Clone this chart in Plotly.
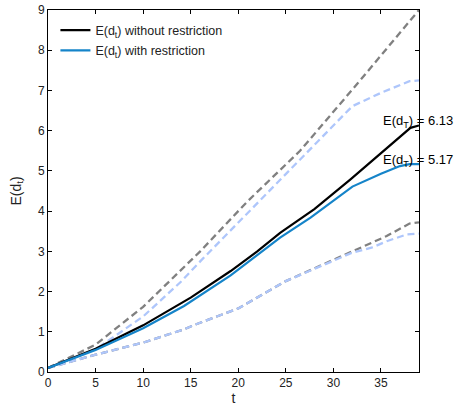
import plotly.graph_objects as go

# Mean trajectories
t_black = [0, 5, 10, 15, 19.2, 22, 24.4, 28, 31.8, 35, 38.1, 39]
v_black = [0.10, 0.58, 1.16, 1.85, 2.51, 3.00, 3.46, 4.05, 4.79, 5.43, 6.07, 6.13]

t_blue = [0, 5, 10, 14.3, 19.2, 22, 24.4, 27.6, 32, 35, 37, 38, 39]
v_blue = [0.10, 0.55, 1.09, 1.64, 2.40, 2.90, 3.34, 3.84, 4.61, 4.93, 5.12, 5.17, 5.17]

# Upper bounds
t_up_grey = [0, 5, 10, 14, 16, 21, 26.5, 32.6, 35, 39]
v_up_grey = [0.10, 0.68, 1.62, 2.55, 3.00, 4.25, 5.50, 7.19, 7.86, 9.00]

t_up_lb = [0, 5, 10, 14, 16, 21, 26.5, 32, 35, 38, 39]
v_up_lb = [0.10, 0.56, 1.38, 2.25, 2.75, 3.95, 5.28, 6.61, 6.94, 7.23, 7.25]

# Lower bounds
t_lo_grey = [0, 5, 10, 14.3, 15.5, 20, 25, 32, 34, 35.6, 38, 39]
v_lo_grey = [0.10, 0.43, 0.73, 1.06, 1.18, 1.58, 2.26, 3.00, 3.21, 3.38, 3.69, 3.72]

t_lo_lb = [0, 5, 10, 14.3, 15.5, 20, 25, 32, 34, 35.6, 37.7, 39]
v_lo_lb = [0.10, 0.43, 0.73, 1.06, 1.18, 1.58, 2.26, 2.97, 3.09, 3.25, 3.42, 3.44]

x_ticks = [0, 5, 10, 15, 20, 25, 30, 35]
y_ticks = [0, 1, 2, 3, 4, 5, 6, 7, 8, 9]

GREY = "#808080"
LIGHTBLUE = "#aec6fb"
BLUE = "#1584c9"
DASH = "7px,4px"
FONT = "Liberation Sans, Arial, sans-serif"

fig = go.Figure()
fig.add_trace(go.Scatter(x=t_up_grey, y=v_up_grey, mode="lines", showlegend=False,
                         line=dict(color=GREY, width=2.3, dash=DASH)))
fig.add_trace(go.Scatter(x=t_lo_grey, y=v_lo_grey, mode="lines", showlegend=False,
                         line=dict(color=GREY, width=2.3, dash=DASH)))
fig.add_trace(go.Scatter(x=t_up_lb, y=v_up_lb, mode="lines", showlegend=False,
                         line=dict(color=LIGHTBLUE, width=2.3, dash=DASH)))
fig.add_trace(go.Scatter(x=t_lo_lb, y=v_lo_lb, mode="lines", showlegend=False,
                         line=dict(color=LIGHTBLUE, width=2.3, dash=DASH)))
fig.add_trace(go.Scatter(x=t_black, y=v_black, mode="lines", legendgroup="a",
                         name="E(d<sub>t</sub>) without restriction",
                         line=dict(color="black", width=2.2)))
fig.add_trace(go.Scatter(x=t_blue, y=v_blue, mode="lines", legendgroup="b",
                         name="E(d<sub>t</sub>) with restriction",
                         line=dict(color=BLUE, width=2.2)))

fig.add_annotation(x=35, y=6.22, xref="x", yref="y", xanchor="left", yanchor="middle",
                   text="E(d<sub>T</sub>) = 6.13", showarrow=False,
                   font=dict(family=FONT, size=13, color="black"))
fig.add_annotation(x=35, y=5.27, xref="x", yref="y", xanchor="left", yanchor="middle",
                   text="E(d<sub>T</sub>) = 5.17", showarrow=False,
                   font=dict(family=FONT, size=13, color="black"))

axis_common = dict(showline=True, linecolor="black", linewidth=1, mirror="ticks",
                   ticks="inside", ticklen=4, tickcolor="black", showgrid=False,
                   zeroline=False, automargin=False,
                   tickfont=dict(family=FONT, size=12, color="#222"))

fig.update_layout(
    width=456, height=406,
    margin=dict(l=48, r=37, t=10, b=34),
    paper_bgcolor="white", plot_bgcolor="white",
    font=dict(family=FONT, size=12, color="#222"),
    showlegend=True,
    legend=dict(x=0.02, y=0.985, xanchor="left", yanchor="top",
                bgcolor="rgba(0,0,0,0)", borderwidth=0,
                font=dict(family=FONT, size=12.5, color="#222"),
                tracegroupgap=1),
    xaxis=dict(range=[0, 39], tickvals=x_ticks,
               title=dict(text="t", standoff=6, font=dict(family=FONT, size=14)),
               **axis_common),
    yaxis=dict(range=[0, 9], tickvals=y_ticks,
               title=dict(text="E(d<sub>t</sub>)", standoff=13, font=dict(family=FONT, size=14)),
               **axis_common),
)

fig.write_html("out.html")
